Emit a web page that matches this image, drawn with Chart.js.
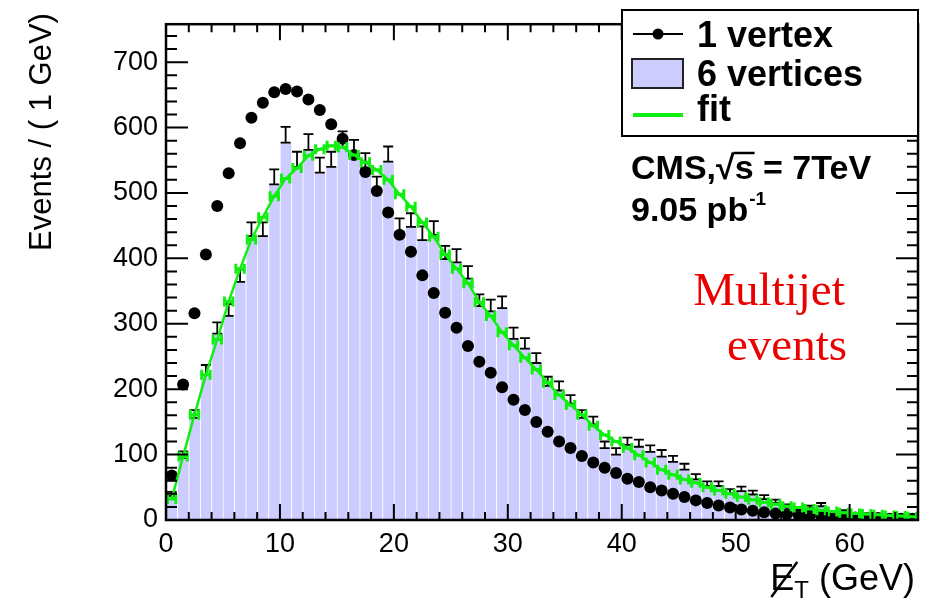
<!DOCTYPE html>
<html>
<head>
<meta charset="utf-8">
<script src="https://cdn.jsdelivr.net/npm/chart.js"></script>
<style>
  html, body { margin: 0; padding: 0; background: #fff; }
</style>
</head>
<body>
<canvas id="chart" width="930" height="600"></canvas>
<script>
// bin centres of the 1 GeV bins, 0..66 GeV
const binCenters = [
  0.5, 1.5, 2.5, 3.5, 4.5, 5.5, 6.5, 7.5, 8.5, 9.5, 10.5, 11.5, 12.5, 13.5, 14.5, 15.5, 16.5,
  17.5, 18.5, 19.5, 20.5, 21.5, 22.5, 23.5, 24.5, 25.5, 26.5, 27.5, 28.5, 29.5, 30.5, 31.5, 32.5,
  33.5, 34.5, 35.5, 36.5, 37.5, 38.5, 39.5, 40.5, 41.5, 42.5, 43.5, 44.5, 45.5, 46.5, 47.5, 48.5,
  49.5, 50.5, 51.5, 52.5, 53.5, 54.5, 55.5, 56.5, 57.5, 58.5, 59.5, 60.5, 61.5, 62.5, 63.5, 64.5, 65.5
]

const oneVertex = [
  68, 207, 316, 406, 480, 530, 576, 615, 638, 654, 659,
  655, 643, 627, 605, 583, 558, 532, 503, 470, 436, 410, 374,
  347, 317, 294, 266, 242, 225, 203, 184, 168,
  150, 135, 120, 110, 98, 88, 80, 72, 63, 58, 50,
  45, 40, 35, 30, 26, 22, 19, 16, 14, 12, 10,
  9, 8, 7, 6, 5, 4, 4, 3, 3, 2, 2, 2
]

const sixVertices = [
  37, 95, 156, 222, 285, 312, 364, 434, 434, 513, 577,
  540, 566, 531, 540, 570, 557, 538, 503, 548,
  440, 448, 428, 436, 399, 394, 369, 327, 319, 324, 277, 262,
  240, 205, 198, 178, 156, 146,
  110, 100, 115, 112, 104, 97, 89, 77, 62, 52, 52, 41, 44, 39, 32, 26, 20, 15, 18, 21,
  11, 12, 8, 7, 6, 5, 4, 3
]

// error bar size for 6 vertices
const sixErrors = [
  6, 10, 12, 15, 17, 18, 19, 21, 21, 23, 24,
  23, 24, 23, 23, 24, 24, 23, 22, 23,
  21, 21, 21, 21, 20, 20, 19, 18, 18, 18, 17, 16,
  15, 14, 14, 13, 12, 12,
  10, 10, 11, 11, 10, 10, 9, 9, 8, 7, 7, 6, 7, 6, 6, 5, 4, 4, 4, 5,
  3, 3, 3, 3, 2, 2, 2, 2
]

const fitValues = [
  32, 97, 161, 222, 276, 334, 384, 429, 463, 495, 522,
  538, 557, 567, 572, 570, 558, 547, 535, 520, 498, 479,
  455, 433, 406, 384, 362, 333, 312, 287, 267, 248,
  230, 210, 191, 176, 161, 144, 130, 120, 110, 99, 88,
  77, 69, 62, 57, 50, 45, 40, 35, 31, 27, 24,
  21, 19, 17, 15, 13, 11, 10, 9, 8, 7, 6, 5
]

const xTicks = [0, 10, 20, 30, 40, 50, 60]
const yTicks = [0, 100, 200, 300, 400, 500, 600, 700]

const GREEN = '#11ee11'
const LAVENDER = '#ccccff'
const SANS = '"Liberation Sans", Arial, Helvetica, sans-serif'

const pts = arr => binCenters.map((x, i) => ({ x: x, y: arr[i] }))

const hep = {
  id: 'hep',
  afterDatasetDraw(chart, args) {
    const ctx = chart.ctx
    const xs = chart.scales.x, ys = chart.scales.y
    const a = chart.chartArea
    ctx.save()
    ctx.beginPath()
    ctx.rect(a.left, a.top, a.right - a.left, a.bottom - a.top)
    ctx.clip()
    if (args.index === 2) {
      // error bars sitting on the histogram
      ctx.strokeStyle = '#000'
      ctx.lineWidth = 1.8
      sixVertices.forEach((v, i) => {
        const px = xs.getPixelForValue(binCenters[i])
        const y0 = ys.getPixelForValue(v)
        const y1 = ys.getPixelForValue(v + sixErrors[i])
        ctx.beginPath()
        ctx.moveTo(px, y0); ctx.lineTo(px, y1)
        ctx.moveTo(px - 5, y0); ctx.lineTo(px + 5, y0)
        ctx.moveTo(px - 5, y1); ctx.lineTo(px + 5, y1)
        ctx.stroke()
      })
    }
    if (args.index === 0) {
      // bin-width markers on the fit
      ctx.strokeStyle = GREEN
      ctx.lineWidth = 3
      fitValues.forEach((v, i) => {
        const xl = xs.getPixelForValue(binCenters[i] - 0.5)
        const xr = xs.getPixelForValue(binCenters[i] + 0.5)
        const py = ys.getPixelForValue(v)
        ctx.beginPath()
        ctx.moveTo(xl + 1, py); ctx.lineTo(xr - 1, py)
        ctx.moveTo(xl + 1.5, py - 5); ctx.lineTo(xl + 1.5, py + 5)
        ctx.moveTo(xr - 1.5, py - 5); ctx.lineTo(xr - 1.5, py + 5)
        ctx.stroke()
      })
    }
    ctx.restore()
  },
  afterDraw(chart) {
    const ctx = chart.ctx
    const xs = chart.scales.x, ys = chart.scales.y
    const a = chart.chartArea
    ctx.save()

    // tick marks pointing inwards on all four sides
    ctx.strokeStyle = '#000'
    ctx.lineWidth = 2
    ctx.beginPath()
    for (let v = 0; v <= 66; v += 2) {
      const px = xs.getPixelForValue(v)
      const len = v % 10 === 0 ? 16 : 8
      ctx.moveTo(px, a.bottom); ctx.lineTo(px, a.bottom - len)
      ctx.moveTo(px, a.top); ctx.lineTo(px, a.top + len)
    }
    for (let v = 0; v <= 758; v += 20) {
      const py = ys.getPixelForValue(v)
      const len = v % 100 === 0 ? 22 : 11
      ctx.moveTo(a.left, py); ctx.lineTo(a.left + len, py)
      ctx.moveTo(a.right, py); ctx.lineTo(a.right - len, py)
    }
    ctx.stroke()

    // frame
    ctx.lineWidth = 2.5
    ctx.strokeRect(a.left, a.top, a.right - a.left, a.bottom - a.top)

    // legend
    ctx.fillStyle = '#fff'
    ctx.fillRect(622, 10, 296, 126)
    ctx.lineWidth = 2
    ctx.strokeRect(622, 10, 296, 126)
    ctx.beginPath()
    ctx.moveTo(633, 34); ctx.lineTo(683, 34)
    ctx.stroke()
    ctx.fillStyle = '#000'
    ctx.beginPath(); ctx.arc(658, 34, 5.5, 0, Math.PI * 2); ctx.fill()
    ctx.fillStyle = LAVENDER
    ctx.fillRect(632, 59, 51, 29)
    ctx.strokeStyle = '#222'
    ctx.strokeRect(632, 59, 51, 29)
    ctx.strokeStyle = GREEN
    ctx.lineWidth = 4
    ctx.beginPath(); ctx.moveTo(633, 115); ctx.lineTo(683, 115); ctx.stroke()

    ctx.fillStyle = '#000'
    ctx.textAlign = 'left'
    ctx.textBaseline = 'alphabetic'
    ctx.font = 'bold 36px ' + SANS
    ctx.fillText('1 vertex', 697, 47)
    ctx.fillText('6 vertices', 697, 86)
    ctx.fillText('fit', 697, 121)

    // CMS label with sqrt(s)
    ctx.font = 'bold 34px ' + SANS
    const pre = 'CMS,\u221A'
    ctx.fillText(pre + 's = 7TeV', 631, 179)
    const sx = 631 + ctx.measureText(pre).width
    const sw = ctx.measureText('s').width
    ctx.lineWidth = 2.5
    ctx.strokeStyle = '#000'
    ctx.beginPath(); ctx.moveTo(sx - 1, 153); ctx.lineTo(sx + sw + 1, 153); ctx.stroke()
    ctx.fillText('9.05 pb', 631, 221)
    const pw = ctx.measureText('9.05 pb').width
    ctx.font = 'bold 19px ' + SANS
    ctx.fillText('-1', 631 + pw + 1, 205)

    // Multijet events
    ctx.fillStyle = 'rgb(235,0,0)'
    ctx.font = '47px "Liberation Serif", "Times New Roman", serif'
    ctx.textAlign = 'center'
    ctx.fillText('Multijet', 769, 305)
    ctx.fillText('events', 787, 360)

    // y axis title
    ctx.fillStyle = '#000'
    ctx.font = '31px ' + SANS
    ctx.save()
    ctx.translate(51, 132)
    ctx.rotate(-Math.PI / 2)
    ctx.textAlign = 'center'
    ctx.fillText('Events / ( 1 GeV)', 0, 0)
    ctx.restore()

    // x axis title: missing E_T
    ctx.textAlign = 'left'
    ctx.font = '36px ' + SANS
    const wE = ctx.measureText('E').width
    const wU = ctx.measureText(' (GeV)').width
    ctx.font = '24px ' + SANS
    const wT = ctx.measureText('T').width
    const x0 = 915 - wE - wT - wU
    ctx.font = '36px ' + SANS
    ctx.fillText('E', x0, 590)
    ctx.lineWidth = 2.5
    ctx.beginPath(); ctx.moveTo(x0 + 1, 597); ctx.lineTo(x0 + wE + 3, 562); ctx.stroke()
    ctx.fillText(' (GeV)', x0 + wE + wT, 590)
    ctx.font = '24px ' + SANS
    ctx.fillText('T', x0 + wE, 598)

    ctx.restore()
  }
}

new Chart(document.getElementById('chart'), {
  type: 'bar',
  data: {
    datasets: [
      {
        type: 'line',
        label: 'fit',
        data: pts(fitValues),
        borderColor: GREEN,
        borderWidth: 2.5,
        pointRadius: 0,
        tension: 0,
        order: 1
      },
      {
        type: 'line',
        label: '1 vertex',
        data: pts(oneVertex),
        showLine: false,
        pointStyle: 'circle',
        pointRadius: 6,
        pointBackgroundColor: '#000',
        pointBorderWidth: 0,
        order: 2
      },
      {
        type: 'bar',
        label: '6 vertices',
        data: pts(sixVertices),
        backgroundColor: LAVENDER,
        borderColor: 'rgba(255,255,255,0.7)',
        borderWidth: { left: 1, right: 0, top: 0, bottom: 0 },
        barPercentage: 1,
        categoryPercentage: 1,
        order: 3
      }
    ]
  },
  options: {
    responsive: false,
    animation: false,
    layout: { padding: { left: 0, right: 12, top: 10, bottom: 0 } },
    plugins: { legend: { display: false }, tooltip: { enabled: false } },
    scales: {
      x: {
        type: 'linear',
        min: 0,
        max: 66,
        offset: false,
        afterFit: s => { s.height = 80 },
        afterBuildTicks: s => { s.ticks = xTicks.map(v => ({ value: v })) },
        grid: { display: false, drawTicks: false, offset: false },
        border: { display: false },
        ticks: { color: '#000', font: { family: SANS, size: 27 }, padding: 8, maxRotation: 0 }
      },
      y: {
        min: 0,
        max: 758,
        afterFit: s => { s.width = 166 },
        afterBuildTicks: s => { s.ticks = yTicks.map(v => ({ value: v })) },
        grid: { display: false, drawTicks: false },
        border: { display: false },
        ticks: { color: '#000', font: { family: SANS, size: 27 }, padding: 8 }
      }
    }
  },
  plugins: [hep]
})
</script>
</body>
</html>
